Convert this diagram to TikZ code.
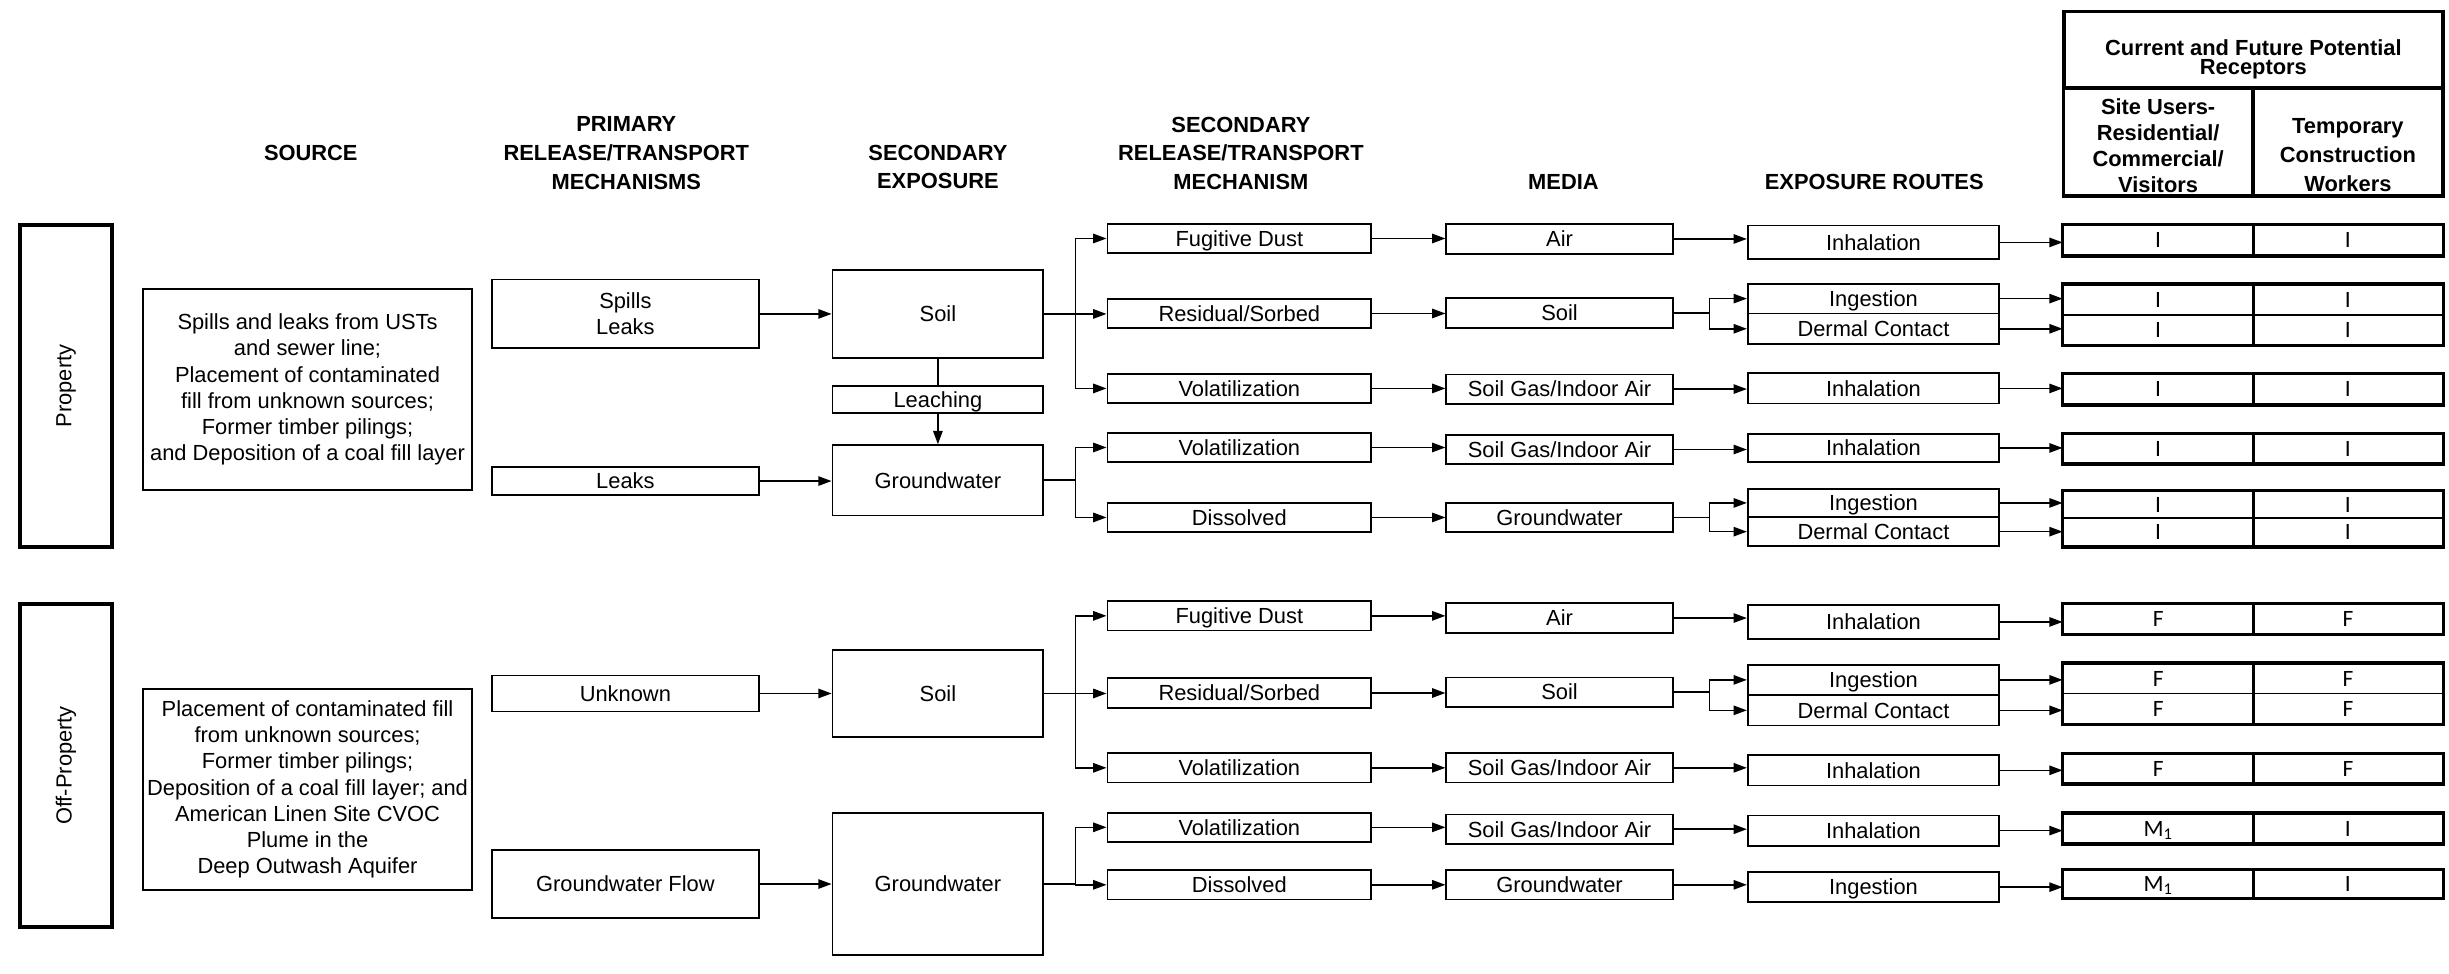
\documentclass[tikz,border=0pt]{standalone}
\usepackage{fontspec}
\setmainfont{Liberation Sans}
\newfontfamily\cellfont{Carlito}
\usepackage{tikz}
\usetikzlibrary{arrows.meta}

\begin{document}
\begin{tikzpicture}[x=1pt, y=-1pt,
    every node/.style={font=\fontsize{14}{16.8}\selectfont, inner sep=0pt},
    box/.style={draw, line width=1.1pt, align=center},
    onerow/.style={box, text height=10pt, text depth=0pt},
    grp/.style={draw, line width=2.4pt, rotate=90, minimum height=59pt},
    head/.style={font=\fontsize{14}{18.3}\selectfont\bfseries, align=center},
    hcell/.style={draw, line width=2.2pt},
    srcbox/.style={box, minimum width=210.6pt, minimum height=128.7pt},
    primbox/.style={onerow, minimum width=170.7pt},
    secbox/.style={onerow, minimum width=135pt},
    relbox/.style={onerow, minimum width=169pt, minimum height=18.8pt},
    medbox/.style={onerow, minimum width=145pt, minimum height=18.8pt},
    routebox/.style={onerow, minimum width=161pt},
    cell/.style={draw, line width=0.8pt, minimum width=121.5pt,
        font=\cellfont\fontsize{15}{18}\selectfont, text height=9.7pt, text depth=0pt},
    frame/.style={line width=2.2pt},
    link/.style={line width=1pt},
    arrow/.style={-{Triangle[length=8.5pt, width=6pt]}, line width=1pt}
]
\useasboundingbox (0,0) rectangle (1568,623);
%% ============================================================
%% COLUMN HEADINGS
%% ============================================================
\node[head] (hsrc)   at (199,98)     {SOURCE};
\node[head] (hprim)  at (401,98)     {PRIMARY\\RELEASE/TRANSPORT\\MECHANISMS};
\node[head] (hsec)   at (600.5,107)  {SECONDARY\\EXPOSURE};
\node[head] (hrel)   at (794.5,98)   {SECONDARY\\RELEASE/TRANSPORT\\MECHANISM};
\node[head] (hmed)   at (1001,116.5) {MEDIA};
\node[head] (hroute) at (1200,116.5) {EXPOSURE ROUTES};
%% receptor table head
\node[hcell, minimum width=242.5pt, minimum height=49.2pt] (rcp) at (1442.75,31.9) {};
\node[head, font=\fontsize{14}{12}\selectfont\bfseries] (rcptxt) at (1442.75,38.2)
    {Current and Future Potential\\Receptors};
\node[hcell, minimum width=121.5pt, minimum height=69.1pt] (rsite) at (1381.75,91) {};
\node[head, font=\fontsize{14}{16.6}\selectfont\bfseries] (rsitetxt) at (1381.75,93.4)
    {Site Users-\\Residential/\\Commercial/\\Visitors};
\node[hcell, minimum width=121.5pt, minimum height=69.1pt] (rtemp) at (1503.25,91) {};
\node[head, font=\fontsize{14}{18.4}\selectfont\bfseries] (rtemptxt) at (1503.25,99.4)
    {Temporary\\Construction\\Workers};
%% ============================================================
%% GROUPS AND SOURCES
%% ============================================================
\node[grp, minimum width=206.2pt] (prop)    at (42.3,247.1) {Property};
\node[grp, minimum width=206.8pt] (offprop) at (42.3,490.1) {Off-Property};
\node[srcbox] (src1) at (196.9,249.4) {Spills and leaks from USTs\\and sewer line;\\Placement of contaminated\\fill from unknown sources;\\Former timber pilings;\\and Deposition of a coal fill layer};
\node[srcbox] (src2) at (196.9,505.5) {Placement of contaminated fill\\from unknown sources;\\Former timber pilings;\\Deposition of a coal fill layer; and\\American Linen Site CVOC\\Plume in the\\Deep Outwash Aquifer};
%% ============================================================
%% PRIMARY RELEASE AND SECONDARY EXPOSURE
%% ============================================================
\node[box, minimum width=170.7pt, minimum height=44pt] (spl) at (400.4,201) {Spills\\Leaks};
\node[primbox, minimum height=18.2pt] (leak) at (400.4,308)   {Leaks};
\node[primbox, minimum height=23pt]   (unk)  at (400.4,444)   {Unknown};
\node[primbox, minimum height=43.3pt] (gwf)  at (400.4,566)   {Groundwater Flow};
\node[secbox, minimum height=56pt]   (soil1) at (600.5,201)   {Soil};
\node[secbox, minimum height=17.5pt] (leach) at (600.5,255.8) {Leaching};
\node[secbox, minimum height=45pt]   (gw1)   at (600.5,307.5) {Groundwater};
\node[secbox, minimum height=56pt]   (soil2) at (600.5,444)   {Soil};
\node[secbox, minimum height=91pt]   (gw2)   at (600.5,566)   {Groundwater};
%% ============================================================
%% SECONDARY RELEASE AND MEDIA
%% ============================================================
\node[relbox] (fd1)  at (793.5,152.7) {Fugitive Dust};
\node[relbox] (res1) at (793.5,200.7) {Residual/Sorbed};
\node[relbox] (vol1) at (793.5,248.7) {Volatilization};
\node[relbox] (vol2) at (793.5,286.5) {Volatilization};
\node[relbox] (dis1) at (793.5,331.3) {Dissolved};
\node[relbox] (fd2)  at (793.5,394.3) {Fugitive Dust};
\node[relbox] (res2) at (793.5,443.7) {Residual/Sorbed};
\node[relbox] (vol3) at (793.5,491.6) {Volatilization};
\node[relbox] (vol4) at (793.5,529.7) {Volatilization};
\node[relbox] (dis2) at (793.5,566.5) {Dissolved};
\node[medbox] (air1)   at (998.5,153)   {Air};
\node[medbox] (msoil1) at (998.5,200.4) {Soil};
\node[medbox] (sgas1)  at (998.5,249.1) {Soil Gas/Indoor Air};
\node[medbox] (sgas2)  at (998.5,287.8) {Soil Gas/Indoor Air};
\node[medbox] (mgw1)   at (998.5,331.3) {Groundwater};
\node[medbox] (air2)   at (998.5,395.7) {Air};
\node[medbox] (msoil2) at (998.5,443.1) {Soil};
\node[medbox] (sgas3)  at (998.5,491.6) {Soil Gas/Indoor Air};
\node[medbox] (sgas4)  at (998.5,530.9) {Soil Gas/Indoor Air};
\node[medbox] (mgw2)   at (998.5,566.5) {Groundwater};
%% ============================================================
%% EXPOSURE ROUTES
%% ============================================================
\node[routebox, minimum height=21.5pt] (inh1) at (1199.5,155.2) {Inhalation};
\node[routebox, minimum height=19.1pt] (ing1) at (1199.5,191.2) {Ingestion};
\node[routebox, minimum height=19.4pt] (der1) at (1199.5,210.5) {Dermal Contact};
\node[routebox, minimum height=19.4pt] (inh2) at (1199.5,248.7) {Inhalation};
\node[routebox, minimum height=18pt]   (inh3) at (1199.5,286.8) {Inhalation};
\node[routebox, minimum height=18pt]   (ing2) at (1199.5,322)   {Ingestion};
\node[routebox, minimum height=18.8pt] (der2) at (1199.5,340.4) {Dermal Contact};
\node[routebox, minimum height=21.5pt] (inh4) at (1199.5,398.2) {Inhalation};
\node[routebox, minimum height=19.5pt] (ing3) at (1199.5,435.3) {Ingestion};
\node[routebox, minimum height=19.5pt] (der3) at (1199.5,454.8) {Dermal Contact};
\node[routebox, minimum height=19.5pt] (inh5) at (1199.5,493.2) {Inhalation};
\node[routebox, minimum height=19.5pt] (inh6) at (1199.5,531.8) {Inhalation};
\node[routebox, minimum height=19pt]   (ing4) at (1199.5,568)   {Ingestion};
%% ============================================================
%% RECEPTOR CELLS (s = site users, t = temporary workers)
%% ============================================================
\node[cell, minimum height=19.4pt] (r1s)  at (1381.75,153.7) {I};
\node[cell, minimum height=19.4pt] (r1t)  at (1503.25,153.7) {I};
\node[cell, minimum height=19.5pt] (r2s)  at (1381.75,192)   {I};
\node[cell, minimum height=19.5pt] (r2t)  at (1503.25,192)   {I};
\node[cell, minimum height=19pt]   (r3s)  at (1381.75,211.2) {I};
\node[cell, minimum height=19pt]   (r3t)  at (1503.25,211.2) {I};
\node[cell, minimum height=19.4pt] (r4s)  at (1381.75,249.3) {I};
\node[cell, minimum height=19.4pt] (r4t)  at (1503.25,249.3) {I};
\node[cell, minimum height=18.8pt] (r5s)  at (1381.75,287.2) {I};
\node[cell, minimum height=18.8pt] (r5t)  at (1503.25,287.2) {I};
\node[cell, minimum height=17.2pt] (r6s)  at (1381.75,323)   {I};
\node[cell, minimum height=17.2pt] (r6t)  at (1503.25,323)   {I};
\node[cell, minimum height=18.2pt] (r7s)  at (1381.75,340.7) {I};
\node[cell, minimum height=18.2pt] (r7t)  at (1503.25,340.7) {I};
\node[cell, minimum height=19.3pt] (r8s)  at (1381.75,396.3) {F};
\node[cell, minimum height=19.3pt] (r8t)  at (1503.25,396.3) {F};
\node[cell, minimum height=19pt]   (r9s)  at (1381.75,434.5) {F};
\node[cell, minimum height=19pt]   (r9t)  at (1503.25,434.5) {F};
\node[cell, minimum height=19.5pt] (r10s) at (1381.75,453.8) {F};
\node[cell, minimum height=19.5pt] (r10t) at (1503.25,453.8) {F};
\node[cell, minimum height=18.7pt] (r11s) at (1381.75,492.2) {F};
\node[cell, minimum height=18.7pt] (r11t) at (1503.25,492.2) {F};
\node[cell, minimum height=19pt]   (r12s) at (1381.75,530.5) {M\textsubscript{1}};
\node[cell, minimum height=19pt]   (r12t) at (1503.25,530.5) {I};
\node[cell, minimum height=18pt]   (r13s) at (1381.75,566)   {M\textsubscript{1}};
\node[cell, minimum height=18pt]   (r13t) at (1503.25,566)   {I};
%% ============================================================
%% CONNECTORS
%% ============================================================
\draw[arrow] (spl.east) -- (soil1.west);
\draw[arrow] (leak.east) -- (leak.east -| gw1.west);
\draw[arrow] (unk.east) -- (soil2.west);
\draw[arrow] (gwf.east) -- (gw2.west);
\draw[link] (soil1.south) -- (leach.north);
\draw[arrow] (leach.south) -- (gw1.north);
%% secondary exposure -> secondary release
\draw[arrow] (soil1.east) -- ++(20,0) |- (fd1.west);
\draw[arrow] (soil1.east) -- (soil1.east -| res1.west);
\draw[arrow] (soil1.east) -- ++(20,0) |- (vol1.west);
\draw[arrow] (gw1.east) -- ++(20,0) |- (vol2.west);
\draw[arrow] (gw1.east) -- ++(20,0) |- (dis1.west);
\draw[arrow] (soil2.east) -- ++(20,0) |- (fd2.west);
\draw[arrow] (soil2.east) -- (soil2.east -| res2.west);
\draw[arrow] (soil2.east) -- ++(20,0) |- (vol3.west);
\draw[arrow] (gw2.east) -- ++(20,0) |- (vol4.west);
\draw[arrow] (gw2.east) -- ++(20,0) |- (dis2.west);
%% secondary release -> media
\draw[arrow] (fd1.east) -- (fd1.east -| air1.west);
\draw[arrow] (res1.east) -- (res1.east -| msoil1.west);
\draw[arrow] (vol1.east) -- (vol1.east -| sgas1.west);
\draw[arrow] (vol2.east) -- (vol2.east -| sgas2.west);
\draw[arrow] (dis1.east) -- (dis1.east -| mgw1.west);
\draw[arrow] (fd2.east) -- (fd2.east -| air2.west);
\draw[arrow] (res2.east) -- (res2.east -| msoil2.west);
\draw[arrow] (vol3.east) -- (vol3.east -| sgas3.west);
\draw[arrow] (vol4.east) -- (vol4.east -| sgas4.west);
\draw[arrow] (dis2.east) -- (dis2.east -| mgw2.west);
%% media -> exposure routes
\draw[arrow] (air1.east) -- (air1.east -| inh1.west);
\draw[arrow] (msoil1.east) -- ++(23,0) |- (ing1.west);
\draw[arrow] (msoil1.east) -- ++(23,0) |- (der1.west);
\draw[arrow] (sgas1.east) -- (sgas1.east -| inh2.west);
\draw[arrow] (sgas2.east) -- (sgas2.east -| inh3.west);
\draw[arrow] (mgw1.east) -- ++(23,0) |- (ing2.west);
\draw[arrow] (mgw1.east) -- ++(23,0) |- (der2.west);
\draw[arrow] (air2.east) -- (air2.east -| inh4.west);
\draw[arrow] (msoil2.east) -- ++(23,0) |- (ing3.west);
\draw[arrow] (msoil2.east) -- ++(23,0) |- (der3.west);
\draw[arrow] (sgas3.east) -- (sgas3.east -| inh5.west);
\draw[arrow] (sgas4.east) -- (sgas4.east -| inh6.west);
\draw[arrow] (mgw2.east) -- (mgw2.east -| ing4.west);
%% exposure routes -> receptors
\draw[arrow] (inh1.east) -- (inh1.east -| r1s.west);
\draw[arrow] (ing1.east) -- (ing1.east -| r2s.west);
\draw[arrow] (der1.east) -- (der1.east -| r3s.west);
\draw[arrow] (inh2.east) -- (inh2.east -| r4s.west);
\draw[arrow] (inh3.east) -- (inh3.east -| r5s.west);
\draw[arrow] (ing2.east) -- (ing2.east -| r6s.west);
\draw[arrow] (der2.east) -- (der2.east -| r7s.west);
\draw[arrow] (inh4.east) -- (inh4.east -| r8s.west);
\draw[arrow] (ing3.east) -- (ing3.east -| r9s.west);
\draw[arrow] (der3.east) -- (der3.east -| r10s.west);
\draw[arrow] (inh5.east) -- (inh5.east -| r11s.west);
\draw[arrow] (inh6.east) -- (inh6.east -| r12s.west);
\draw[arrow] (ing4.east) -- (ing4.east -| r13s.west);
%% thick frames round the receptor rows
\draw[frame] (r1s.north west) rectangle (r1t.south east) (r1s.north east) -- (r1s.south east);
\draw[frame] (r2s.north west) rectangle (r3t.south east) (r2s.north east) -- (r3s.south east);
\draw[frame] (r4s.north west) rectangle (r4t.south east) (r4s.north east) -- (r4s.south east);
\draw[frame] (r5s.north west) rectangle (r5t.south east) (r5s.north east) -- (r5s.south east);
\draw[frame] (r6s.north west) rectangle (r7t.south east) (r6s.north east) -- (r7s.south east);
\draw[frame] (r8s.north west) rectangle (r8t.south east) (r8s.north east) -- (r8s.south east);
\draw[frame] (r9s.north west) rectangle (r10t.south east) (r9s.north east) -- (r10s.south east);
\draw[frame] (r11s.north west) rectangle (r11t.south east) (r11s.north east) -- (r11s.south east);
\draw[frame] (r12s.north west) rectangle (r12t.south east) (r12s.north east) -- (r12s.south east);
\draw[frame] (r13s.north west) rectangle (r13t.south east) (r13s.north east) -- (r13s.south east);
\end{tikzpicture}
\end{document}
